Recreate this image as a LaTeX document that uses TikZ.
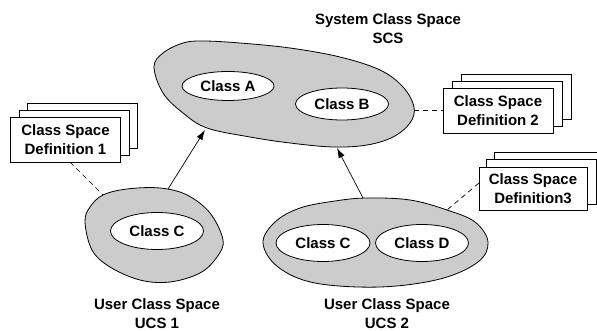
\documentclass[tikz,border=0pt]{standalone}
\usepackage{fontspec}
\setmainfont{Liberation Sans}
\usetikzlibrary{shapes.geometric,arrows.meta}
\begin{document}
\begin{tikzpicture}[x=1pt,y=-1pt,
  every node/.style={font=\fontsize{15}{19}\selectfont\bfseries},
  blob/.style={draw=black,fill=black!20,line width=0.8pt},
  cls/.style={draw=black,fill=white,ellipse,line width=0.8pt,inner sep=0pt},
  defbox/.style={draw=black,fill=white,rectangle,line width=0.8pt,minimum width=110pt,minimum height=45pt,align=center,inner sep=0pt},
  backbox/.style={draw=black,fill=white,rectangle,line width=0.8pt,minimum width=110pt,minimum height=45pt,inner sep=0pt},
  lbl/.style={align=center,inner sep=0pt},
  dashline/.style={line width=0.7pt,dash pattern=on 5pt off 4pt},
  arr/.style={line width=0.7pt,-{Latex[length=10pt,width=6.5pt]}}]
\useasboundingbox (0,0) rectangle (597,331);
% System class space blob
\draw[blob] plot[smooth cycle,tension=0.6] coordinates {(154,67) (163,53) (183,43) (203,41) (240,43) (290,48) (340,57) (380,70) (403,87) (414,107) (410,123) (393,137) (367,145) (333,147) (290,143) (250,137) (207,128) (183,113) (163,93)};
\node[cls,minimum width=92pt,minimum height=29pt] (ca) at (228,86) {Class A};
\node[cls,minimum width=93pt,minimum height=32pt] (cb) at (342,104) {Class B};
\node[lbl] (scs) at (388,29) {System Class Space\\SCS};
% UCS1 blob
\draw[blob] plot[smooth cycle,tension=0.6] coordinates {(85,222) (90,207) (103,195) (127,189) (160,188) (187,195) (210,213) (223,240) (217,257) (200,273) (170,282) (140,280) (110,267) (92,250)};
\node[cls,minimum width=93pt,minimum height=37pt] (c1) at (157,231) {Class C};
\node[lbl] (ucs1) at (157,314) {User Class Space\\UCS 1};
% UCS2 blob
\draw[blob] plot[smooth cycle,tension=0.6] coordinates {(263,243) (275,222) (300,208) (335,201) (367,198) (410,200) (447,210) (475,222) (488,242) (478,262) (440,279) (380,287) (315,283) (278,267)};
\node[cls,minimum width=94pt,minimum height=37pt] (c2) at (323,243) {Class C};
\node[cls,minimum width=93pt,minimum height=37pt] (cd) at (422,243) {Class D};
\node[lbl] (ucs2) at (387,314) {User Class Space\\UCS 2};
% definition boxes
\node[backbox] (b1c) at (82.5,125.5) {};
\node[backbox] (b1b) at (74,132.5) {};
\node[defbox] (b1) at (65.5,139.5) {Class Space\\Definition 1};
\node[backbox] (b2c) at (516,96.5) {};
\node[backbox] (b2b) at (507,103.5) {};
\node[defbox] (b2) at (498,110.5) {Class Space\\Definition 2};
\node[backbox] (b3c) at (549,174.5) {};
\node[backbox] (b3b) at (541,181.5) {};
\node[defbox,minimum width=108pt,minimum height=43pt] (b3) at (533,188.5) {Class Space\\Definition3};
% connection points
\coordinate (u1top) at (168,189);
\coordinate (scsA) at (205,130);
\coordinate (u2top) at (363,198);
\coordinate (scsB) at (337,148);
\coordinate (scsR) at (414,110);
\coordinate (u1l) at (103,195);
\coordinate (b1p) at (70,162);
\coordinate (u2r) at (447,210);
\coordinate (b3p) at (479,183);
\coordinate (b2p) at (443,110);
% connectors
\draw[arr] (u1top) -- (scsA);
\draw[arr] (u2top) -- (scsB);
\draw[dashline] (b1p) -- (u1l);
\draw[dashline] (scsR) -- (b2p);
\draw[dashline] (b3p) -- (u2r);
\end{tikzpicture}
\end{document}
